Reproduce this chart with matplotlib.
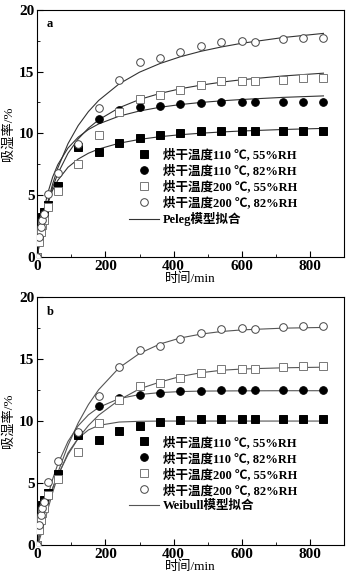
import matplotlib
matplotlib.use("Agg")
import matplotlib.pyplot as plt
from matplotlib.ticker import MultipleLocator

plt.rcParams["font.family"] = ["Liberation Serif", "Noto Sans CJK SC", "DejaVu Sans"]
plt.rcParams["font.weight"] = "bold"

# measured points (time in min, moisture uptake in %)
times = [0, 5, 10, 15, 20, 30, 60, 120, 180, 240, 300, 360, 420, 480, 540, 600, 640, 720, 780, 840]
s110_55 = [0, 1.5, 2.9, 3.2, 3.6, 4.2, 5.7, 8.9, 8.5, 9.2, 9.6, 9.9, 10.05, 10.2, 10.2, 10.2, 10.2, 10.2, 10.2, 10.2]
s110_82 = [0, 1.8, 2.8, 3.0, 3.5, 4.2, 5.75, 9.0, 11.2, 11.9, 12.1, 12.25, 12.4, 12.45, 12.5, 12.5, 12.5, 12.5, 12.5, 12.5]
s200_55 = [0, 1.2, 2.0, 2.6, 3.0, 4.0, 5.3, 7.5, 9.85, 11.7, 12.8, 13.1, 13.5, 13.9, 14.2, 14.2, 14.2, 14.35, 14.45, 14.45]
s200_82 = [0, 1.6, 2.4, 3.0, 3.5, 5.1, 6.8, 9.15, 12.05, 14.35, 15.75, 16.1, 16.6, 17.1, 17.4, 17.5, 17.4, 17.6, 17.7, 17.7]

labels = ["烘干温度110 ℃, 55%RH", "烘干温度110 ℃, 82%RH",
          "烘干温度200 ℃, 55%RH", "烘干温度200 ℃, 82%RH"]

# fitted curves
fit_t = [0, 5, 10, 20, 30, 45, 60, 90, 120, 150, 180, 240, 300, 360, 420, 480, 540, 600, 720, 840]
peleg = [
    [0, 1.07, 1.95, 3.31, 4.31, 5.41, 6.19, 7.25, 7.92, 8.39, 8.73, 9.2, 9.51, 9.73, 9.89, 10.01, 10.11, 10.19, 10.31, 10.4],
    [0, 1.23, 2.26, 3.88, 5.1, 6.46, 7.46, 8.81, 9.69, 10.31, 10.76, 11.39, 11.81, 12.11, 12.33, 12.5, 12.63, 12.74, 12.91, 13.03],
    [0, 0.9, 1.71, 3.09, 4.24, 5.63, 6.73, 8.38, 9.55, 10.42, 11.09, 12.07, 12.74, 13.23, 13.61, 13.9, 14.14, 14.34, 14.64, 14.87],
    [0, 0.88, 1.69, 3.12, 4.35, 5.9, 7.18, 9.16, 10.63, 11.76, 12.66, 14.0, 14.95, 15.65, 16.2, 16.64, 16.99, 17.29, 17.75, 18.09],
]
weibull = [
    [0, 0.31, 0.75, 1.75, 2.78, 4.23, 5.51, 7.42, 8.61, 9.28, 9.65, 9.92, 9.98, 10.0, 10.0, 10.0, 10.0, 10.0, 10.0, 10.0],
    [0, 0.75, 1.45, 2.72, 3.85, 5.31, 6.51, 8.35, 9.62, 10.5, 11.1, 11.81, 12.14, 12.3, 12.38, 12.42, 12.43, 12.44, 12.45, 12.45],
    [0, 0.78, 1.4, 2.47, 3.39, 4.59, 5.61, 7.29, 8.6, 9.64, 10.47, 11.7, 12.6, 13.15, 13.6, 13.9, 14.1, 14.2, 14.3, 14.35],
    [0, 0.54, 1.08, 2.14, 3.14, 4.54, 5.82, 8.03, 9.85, 11.33, 12.53, 14.3, 15.46, 16.22, 16.71, 17.02, 17.23, 17.36, 17.5, 17.56],
]

series = [s110_55, s110_82, s200_55, s200_82]
styles = [
    dict(marker="s", mfc="black", mec="black"),
    dict(marker="o", mfc="black", mec="black"),
    dict(marker="s", mfc="white", mec="#777777"),
    dict(marker="o", mfc="white", mec="#444444"),
]

fig = plt.figure(figsize=(3.52, 5.76), dpi=100)
ax_a = fig.add_axes([0.106, 0.554, 0.871, 0.429])
ax_b = fig.add_axes([0.106, 0.054, 0.871, 0.43])


def draw_panel(ax, fits, letter, fit_name, line_color):
    for y in fits:
        ax.plot(fit_t, y, color=line_color, lw=0.8, zorder=1)
    handles = []
    for y, st, lab in zip(series, styles, labels):
        h, = ax.plot(times, y, ls="none", ms=5.5, mew=0.7, label=lab, zorder=3, **st)
        handles.append(h)
    lh, = ax.plot([], [], color=line_color, lw=0.8, label=fit_name)
    handles.append(lh)
    ax.legend(handles=handles, loc="upper left", bbox_to_anchor=(0.272, 0.475),
              frameon=False, fontsize=9, handlelength=2.4, handletextpad=0.25,
              labelspacing=0.25, borderpad=0.2)
    ax.set_xlim(0, 900)
    ax.set_ylim(0, 20)
    ax.xaxis.set_major_locator(MultipleLocator(200))
    ax.xaxis.set_minor_locator(MultipleLocator(100))
    ax.yaxis.set_major_locator(MultipleLocator(5))
    ax.yaxis.set_minor_locator(MultipleLocator(2.5))
    ax.tick_params(which="both", direction="in", labelsize=11, pad=2)
    ax.tick_params(which="major", length=4)
    ax.tick_params(which="minor", length=2.5)
    ax.set_xlabel("时间/min", fontsize=9.5, labelpad=0)
    ax.set_ylabel("吸湿率/%", fontsize=9.5, labelpad=3)
    ax.text(0.03, 0.965, letter, transform=ax.transAxes, fontsize=9, va="top", ha="left")
    for sp in ax.spines.values():
        sp.set_linewidth(0.8)


draw_panel(ax_a, peleg, "a", "Peleg模型拟合", "#333333")
draw_panel(ax_b, weibull, "b", "Weibull模型拟合", "#555555")

fig.savefig("out.png", dpi=100)
